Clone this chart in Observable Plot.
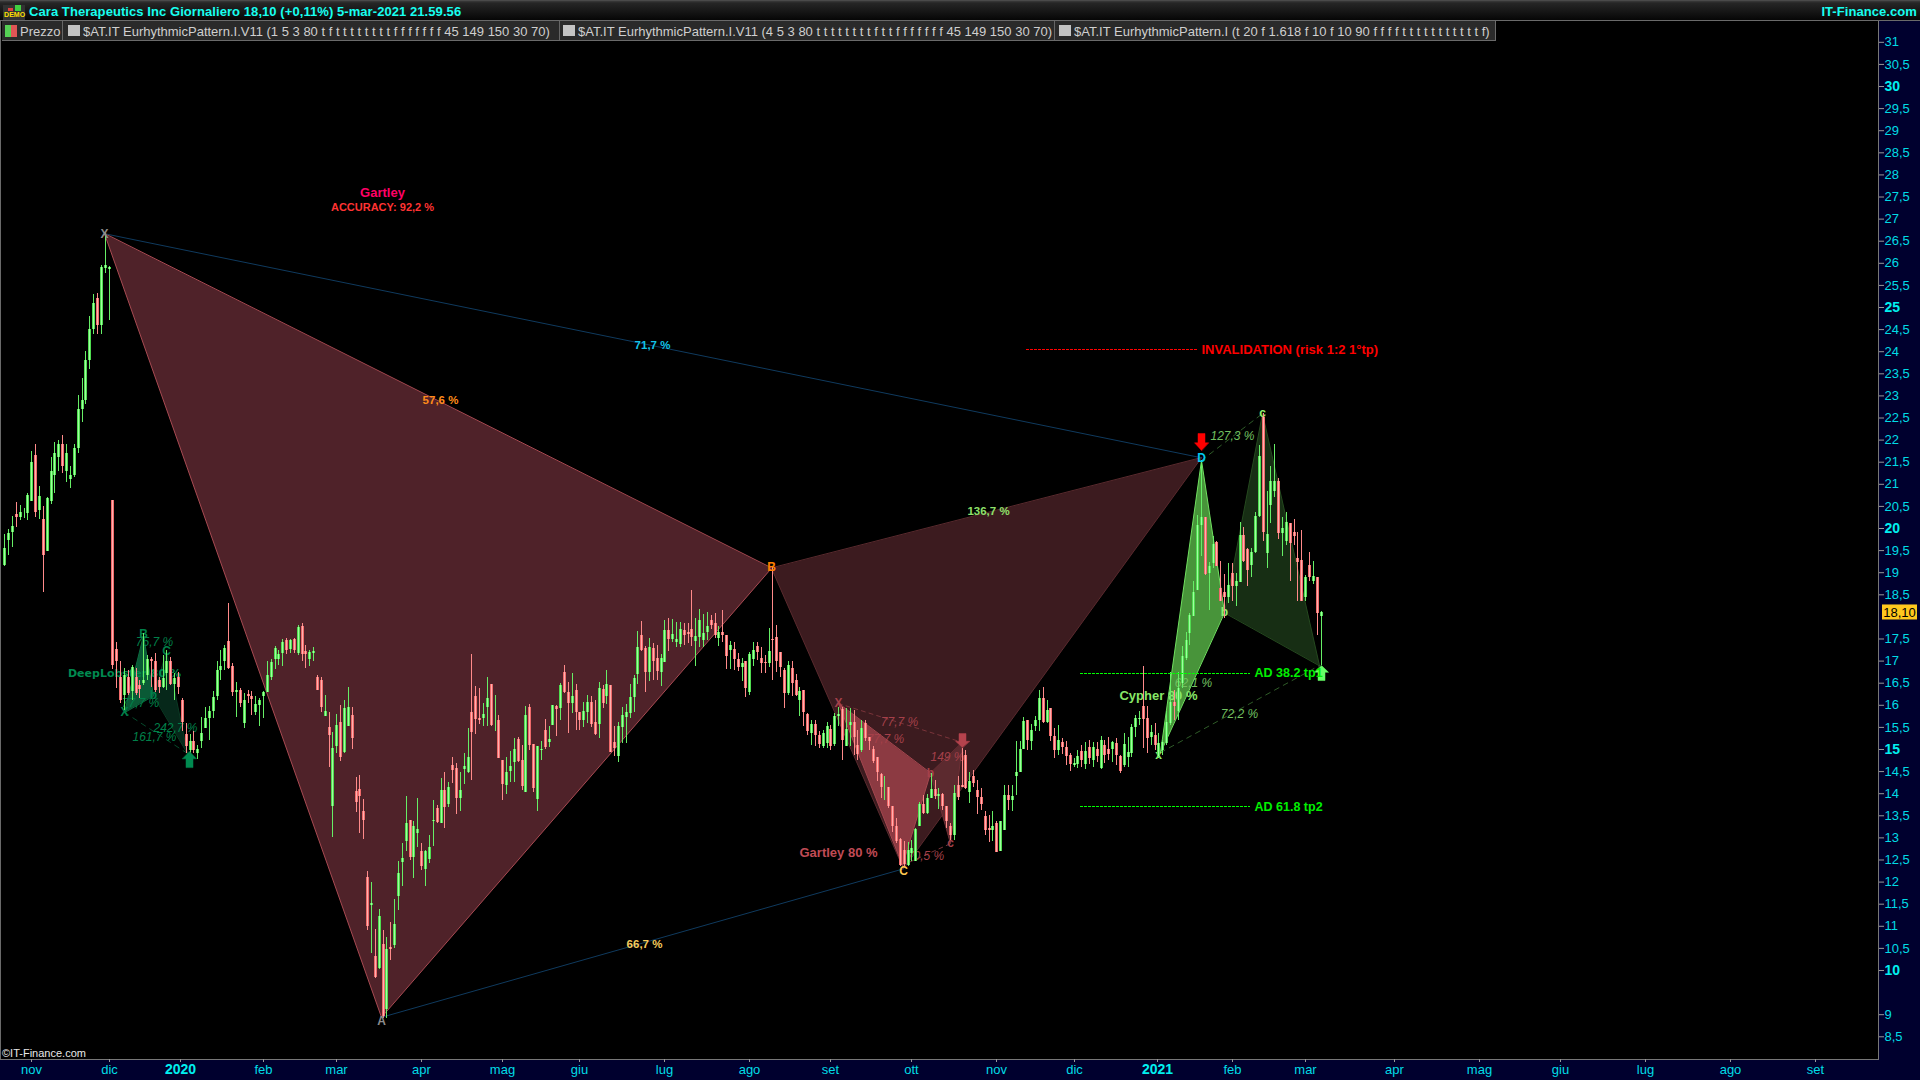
<!DOCTYPE html>
<html lang="it">
<head>
<meta charset="utf-8">
<title>Cara Therapeutics Inc</title>
<script src="https://cdn.jsdelivr.net/npm/d3@7"></script>
<script src="https://cdn.jsdelivr.net/npm/@observablehq/plot@0.6"></script>
<style>
html,body{margin:0;padding:0;background:#000;width:1920px;height:1080px;overflow:hidden;font-family:"Liberation Sans",Arial,sans-serif}
.abs{position:absolute}
#titlebar{left:0;top:0;width:1920px;height:20px;background:linear-gradient(#5a5a5a 0,#3a3a3a 1px,#262626 3px,#060606 20px);border-bottom:1px solid #6a6a6a;color:#18fff0;font-weight:bold;font-size:13px;line-height:24px;letter-spacing:.07px}
#legend{left:2px;top:21px;height:19px;display:flex;background:#2a2a2a;border-bottom:1px solid #6a6a6a;border-right:1px solid #6a6a6a;color:#cfcfcf;font-size:13px;line-height:21px}
#legend .seg{position:relative;border-right:1px solid #666;box-sizing:border-box;white-space:nowrap;height:19px}
#legend .seg:last-child{border-right:none}
#legend .sw{position:absolute;top:4px;width:12px;height:11px;background:#c4c4c4}
#legend .tx{position:absolute;top:0}
</style>
</head>
<body>
<div class="abs" style="left:1878px;top:21px;width:42px;height:1059px;background:#00002e"></div>
<div class="abs" style="left:0;top:1059px;width:1920px;height:21px;background:#00002e"></div>
<div class="abs" style="left:0;top:21px;width:1px;height:1038px;background:#6a6a6a"></div>
<div class="abs" style="left:0;top:1059px;width:1878px;height:1px;background:#777"></div>
<div class="abs" style="left:1878px;top:21px;width:1px;height:1039px;background:#777"></div>
<div id="chart"></div>
<div id="titlebar" class="abs">
  <span class="abs" style="left:3px;top:5px;width:22px;height:15px;background:#333"></span>
  <span class="abs" style="left:8px;top:8px;width:5px;height:3px;background:#e04040"></span>
  <span class="abs" style="left:15px;top:5px;width:6px;height:6px;background:#40d040"></span>
  <span class="abs" style="left:4px;top:11px;font-size:7px;line-height:8px;color:#ffe000">DEMO</span>
  <span class="abs" style="left:29px;top:0">Cara Therapeutics Inc Giornaliero 18,10 (+0,11%) 5-mar-2021 21.59.56</span>
  <span class="abs" style="right:3px;top:0">IT-Finance.com</span>
</div>
<div id="legend" class="abs">
  <div class="seg" style="width:61px"><span class="abs" style="left:3px;top:4px;width:6px;height:12px;background:#55d055"></span><span class="abs" style="left:9px;top:4px;width:6px;height:12px;background:#e05555"></span><span class="tx" style="left:18px">Prezzo</span></div>
  <div class="seg" style="width:497px"><span class="sw" style="left:5px"></span><span class="tx" style="left:20px" id="l1"></span></div>
  <div class="seg" style="width:495px"><span class="sw" style="left:3px"></span><span class="tx" style="left:18px" id="l2"></span></div>
  <div class="seg" style="width:440px"><span class="sw" style="left:4px"></span><span class="tx" style="left:19px" id="l3"></span></div>
</div>
<div class="abs" style="left:2px;top:1046px;font-size:11px;color:#e8e8e8;line-height:14px">©IT-Finance.com</div>
<script>
// ---------- legend text ----------
const legendTexts = [
  "$AT.IT EurhythmicPattern.I.V11 (1 5 3 80 t f t t t t t t t t f f f f f f f 45 149 150 30 70)",
  "$AT.IT EurhythmicPattern.I.V11 (4 5 3 80 t t t t t t t t f t t f f f f f f f 45 149 150 30 70)",
  "$AT.IT EurhythmicPattern.I (t 20 f 1.618 f 10 f 10 90 f f f f t t t t t t t t t t t f)"
];
// ---------- daily candles: [open, high, low, close] ----------
const barsRun = [
[19.17,19.87,19.14,19.54],[19.72,19.97,19.39,19.88],[19.9,20.28,19.58,20.05],[20.32,20.58,20.03,20.24],[20.26,20.52,20.19,20.37],
[20.33,20.45,20.22,20.35],[20.34,20.79,20.17,20.75],[20.62,21.75,20.6,21.5],[21.65,21.9,20.24,20.37],[20.41,20.95,20.21,20.73],
[20.2,20.49,18.56,19.39],[19.49,20.71,19.49,20.69],[20.62,21.6,20.55,21.3],[21.2,21.95,20.8,21.7],[21.6,22,21.3,21.9],
[21.9,22.1,21.25,21.4],[21.3,21.9,21.03,21.7],[21.1,21.4,20.9,21.2],[21.2,21.9,21.15,21.8],[21.8,23,21.7,22.7],
[22.7,23.4,22.4,22.9],[22.9,24,22.8,23.8],[23.8,24.8,23.6,24.5],[24.5,25.3,24.4,25.1],[25.2,25.32,24.4,24.6],
[24.6,25.95,24.4,25.9],[25.88,26.67,25.77,25.95],[25.85,25.92,24.7,25.9]
];
const barsCollapse = [
[20.64,20.64,16.81,16.9],[17.27,17.42,16.38,17],[16.64,16.98,16.05,16.11],[16.23,16.83,15.89,16.68],[16.64,16.79,16.23,16.26],
[16.32,16.9,16.11,16.85],[16.64,16.83,16.23,16.26],[16.45,16.57,16.15,16.36],[16.49,17.62,16.45,16.57],[16.68,17.13,16.57,17.04],
[17.04,17.09,16.4,16.98],[16.98,17.17,16.3,16.34],[16.57,16.64,16.26,16.41],[16.41,17.13,16.38,16.6],[16.73,17.24,16.34,16.99],
[16.99,17.09,16.45,16.48],[16.48,16.72,16.11,16.6],[16.64,16.75,16.25,16.4],[16.11,16.15,15.4,15.62],[15.34,15.59,14.91,15.06],
[14.98,15.34,14.91,15.17],[15.17,15.4,14.91,14.98],[14.92,15.09,14.77,14.99],[15.17,15.72,15.02,15.36],[15.47,15.95,15.47,15.7],
[15.7,15.98,15.21,15.86],[15.85,16.32,15.7,16.17],[16.21,16.98,16.1,16.79],[16.78,17.24,16.57,16.88],[17,17.36,16.79,17.28],
[17.44,18.3,16.81,16.83],[16.88,16.94,16.19,16.28],[16.28,16.51,15.72,16.34],[16.34,16.38,15.96,16.05],[15.59,16.26,15.47,16.11],
[16.24,16.34,16.04,16.19],[16.2,16.32,15.77,16.14],[15.83,16.2,15.77,16.02],[15.99,16.15,15.51,16.1],[16.21,16.32,15.7,16.29],
[16.3,16.98,16.3,16.67],[16.64,17.04,16.55,16.97],[17.03,17.32,16.81,17.28],[17.03,17.24,16.9,17.15],[17.17,17.49,16.88,17.42],
[17.46,17.51,17.15,17.24],[17.26,17.49,17.17,17.47],[17.49,17.51,17.17,17.24],[17.17,17.81,17.13,17.76],[17.79,17.85,16.98,17.15],
[17.21,17.36,16.83,17.15],[17.04,17.24,16.88,17.19],[17.18,17.3,16.99,17.21],[16.64,16.68,16.34,16.34],[16.57,16.64,15.83,15.96],
[15.74,16.23,15.74,15.86],[15.5,15.83,14.59,15.32],[13.72,15.38,13,15.02],[15.06,15.8,14.9,15.55],[15.61,16,14.72,14.81],
[14.94,16.11,14.91,15.93],[15.52,16.4,15.51,15.96],[15.77,15.95,14.99,15.26]
];
const barsRecovery = [
[14.05,14.37,13.58,13.79],[14.09,14.41,13.1,13.94],[13.6,13.86,12.96,13.39],[12.1,12.24,10.9,11],[11.48,12,10.39,11.52],
[10.32,10.92,9.81,9.85],[10.04,11.38,10.02,11.22],[10.59,10.9,8.91,8.95],[9.11,10.74,8.91,10.48],[10.53,11.09,10.23,10.48],
[10.57,11.6,10.49,11.04],[11.67,12.47,11.36,12.19],[12.44,12.87,11.89,12.53],[12.92,13.94,12.7,13.32],[13.39,13.39,12.49,12.56],
[12.56,13.36,12.07,13.26],[13.11,13.88,12.79,13.19],[12.7,12.87,12.26,12.35],[12.29,12.71,11.91,12.69],[12.51,13.05,12.41,12.78],
[13.38,13.85,12.81,13.39],[13.66,13.73,13.32,13.34],[13.33,14.35,13.33,14.07],[14.07,14.49,13.22,13.69],[13.76,14.26,13.69,14.13],
[14.64,14.81,14.24,14.52],[14.56,14.68,13.54,13.9],[13.9,14.49,13.6,14.07],[14.55,14.92,14.21,14.61],[14.49,15.47,14.46,14.81],
[15.83,17.15,14.3,15.39],[16.2,16.42,15.35,15.68],[15.71,16.38,15.57,15.66],[15.71,16.03,15.52,15.79],[15.96,16.62,15.52,16.15],
[16.48,16.48,15.52,15.54],[15.85,16.22,15.41,15.87],[15.66,15.78,14.8,14.8],[14.75,14.75,13.85,14.21],[14.19,14.83,13.98,14.47],
[14.51,14.95,14.26,14.61],[14.71,15.26,14.26,15],[15.23,15.28,14.71,14.73],[14.75,15.09,14.07,14.16],[14.03,15.97,14.03,15.77],
[15.94,16.02,14.98,15.09],[15.11,15.11,14.03,14.12],[13.87,15.07,13.6,15.07],[14.98,15.17,14.75,15.01],[15.43,15.67,14.99,15.05],
[15.15,15.52,15.05,15.23],[15.54,15.99,15.54,15.99],[15.98,15.99,15.3,15.91],[15.92,16.49,15.66,16.45],[16.74,16.9,16.26,16.28],
[16.3,16.52,15.37,16.05],[16.05,16.71,15.81,16.21],[16.33,16.47,15.44,15.84],[15.83,15.84,15.43,15.66],[15.66,16.07,15.49,15.86],
[15.84,16.22,15.58,16.06],[16.06,16.21,15.5,15.56],[15.61,16.11,15.32,15.34],[15.57,16.52,15.26,16.37],[16.35,16.45,15.92,16.05],
[16.21,16.79,16.02,16.46],[16.44,16.44,14.94,14.94],[15.15,15.52,14.85,15.03],[14.85,15.61,14.71,15.52],[15.5,15.96,15.13,15.76],
[15.73,16.02,15.13,15.83],[15.82,16.47,15.69,16.17],[16.17,16.67,15.83,16.6],[16.7,17.68,16.47,17.3],[17.58,17.9,17.22,17.25],
[17.28,17.34,16.3,16.75],[16.75,17.5,16.54,17.3],[17.28,17.39,16.56,17],[17.07,17.35,16.56,16.77],[16.75,17.16,16.43,17.07],
[16.97,17.92,16.97,17.69],[17.69,17.96,17.22,17.49],[17.49,17.94,17.43,17.6],[17.41,17.88,17.31,17.49],[17.37,17.88,17.31,17.71],
[17.69,17.84,17.35,17.58],[17.65,17.84,17.39,17.61],[17.71,18.6,17.33,17.54],[17.45,17.96,16.88,17.56],[17.53,18.17,17.31,17.92],
[17.47,18.05,17.31,17.63],[17.64,18.09,17.47,17.78],[17.92,18.03,17.71,17.8],[17.84,18.07,17.5,17.58],[17.5,17.78,17.34,17.64],
[17.64,18.14,17.43,17.59],[17.59,17.59,16.81,17.1],[17.24,17.44,16.82,17.35],[17.26,17.41,16.79,17.03],[17.03,17.18,16.76,16.86],
[16.86,17.05,16.54,16.94],[16.99,16.99,16.18,16.39],[16.3,17.19,16.22,17.15],[17.04,17.41,16.88,17.24],[17.33,17.43,17.01,17.2],
[17.07,17.3,16.71,16.95],[16.97,17.13,16.73,16.94],[16.94,17.73,16.86,17.22],[17.49,19.12,16.57,17.46]
];
const barsAutumn = [
[17.53,17.8,16.75,16.98],[17.19,17.2,16.64,16.85],[16.79,16.83,15.92,16.26],[16.26,16.98,16.23,16.91],[16.84,16.98,16.19,16.49],
[16.57,16.69,16.2,16.23],[16.11,16.4,15.74,16.32],[16.34,16.34,15.51,15.83],[15.8,15.81,15.32,15.4],[15.37,15.66,15.1,15.57],
[15.56,15.66,15.06,15.31],[15.32,15.41,15.02,15.11],[15.07,15.43,15.02,15.36],[15.13,15.62,15.02,15.51],[15.45,15.55,14.98,15.06],
[15.11,15.81,15.06,15.74],[15.74,15.96,15.51,15.8],[15.9,15.96,14.74,15.21],[15.07,15.92,15.07,15.45],[15.55,15.92,15.06,15.6],
[15.62,15.89,14.87,15.28],[15.1,15.43,14.76,14.89],[14.98,15.66,14.94,15.47],[15.59,15.66,15.17,15.25],[15.28,15.28,14.98,15.17],
[15,15.06,14.68,14.73],[14.81,14.83,14.27,14.47],[14.44,14.45,13.89,14.13],[14.13,14.38,13.85,14.15],[14.14,14.15,13.66,13.7],
[13.72,13.72,13.13,13.25],[13.26,13.44,12.87,12.91],[12.96,12.98,12.36,12.38],[12.72,12.91,12.36,12.4],[12.38,12.9,12.36,12.72],
[12.64,12.95,12.46,12.76],[12.46,13.21,12.46,13.19],[13.25,13.81,13.25,13.75],[13.76,13.96,13.53,13.55],[13.55,13.99,13.53,13.89],
[13.89,14.45,13.89,14.09],[14.09,14.29,13.87,13.94],[13.93,14.12,13.64,13.99],[13.99,14,13.63,13.7],[13.7,13.72,13.21,13.36],
[13.26,13.32,12.95,13.06],[13.06,14.19,12.95,14],[14.18,14.38,13.85,13.91],[14.18,15.02,14.14,14.14],[14.87,14.98,14.09,14.11],
[14.02,14.49,13.78,14.27],[14.38,14.53,14.15,14.24],[14.08,14.3,13.53,13.91],[13.91,14.12,13.61,13.76],[13.49,13.59,13.06,13.17],
[13.21,13.51,12.89,13.16],[13.16,13.59,12.91,13.26],[13.32,13.36,12.66,12.68],[12.7,13.36,12.7,13.36],[13.16,14.19,13.16,13.96],
[13.95,14.19,13.63,13.85],[13.85,14.19,13.59,13.93],[14.38,15.17,13.96,14.49],[14.49,15.17,14.49,15],[15,15.72,15,15.64],
[15.66,15.66,14.98,15.21],[15.19,15.57,14.98,15.43],[15.53,15.74,15.4,15.66],[15.66,16.34,15.4,16.15],[16.15,16.4,15.59,15.62],
[15.62,16.11,15.59,15.89],[15.92,15.92,15.17,15.3],[15.3,15.47,14.79,14.97],[14.97,15.55,14.87,15.21],[15.16,15.25,14.88,15.04],
[15.04,15.17,14.64,14.85],[14.87,14.91,14.51,14.67],[14.64,14.8,14.59,14.68],[14.67,14.98,14.57,14.85]
];
const barsWinter = [
[14.95,15.1,14.6,14.75],[14.65,15.15,14.55,14.95],[15.05,15.2,14.65,14.8],[14.75,15.15,14.6,15.05],[15,15.15,14.7,14.85],
[14.57,15.3,14.55,15.21],[15.09,15.21,14.68,14.87],[15,15.28,14.76,14.89],[15,15.19,14.7,15.16],[15.13,15.25,14.64,14.87],
[14.85,14.87,14.45,14.51],[14.64,15.36,14.6,15.11],[14.82,15.28,14.6,14.93],[14.92,15.57,14.83,15.5],[15.5,15.77,15.28,15.7],
[15.68,15.85,15.55,15.71],[15.98,16.88,15.02,15.68],[15.7,15.98,14.92,15.26],[15.28,15.55,15.1,15.38],[15.32,15.58,14.98,15.09],
[14.85,15.37,14.79,15.13],[14.97,15.21,14.87,15.15],[15.13,15.85,15.09,15.62],[15.59,16.75,15.55,16.07],[16.07,16.34,15.66,15.98],
[15.85,16.75,15.66,16.38],[16.49,17.32,16.38,17.11]
];
const barsBreakout = [
[17.06,17.64,17.02,17.47],[17.62,18.07,17.36,18.04],[18.02,18.79,18,18.55],[18.6,20.3,18.59,20.07],[20.06,21.54,19.36,20.26],
[20.25,20.26,18.94,18.96],[18.98,19.22,18.15,19.15],[19.21,19.82,19.09,19.64],[19.68,19.7,19.13,19.15],[18.64,19.26,18.34,18.34],
[18.56,18.96,17.96,18.45],[18.45,19.21,18.3,18.72],[18.98,19.21,18.34,18.68],[18.68,18.98,18.23,18.79],[18.77,20.13,18.77,19.85],
[19.85,20.03,19.23,19.26],[19.53,19.54,18.69,19.05],[19.17,19.54,18.9,19.45],[19.45,20.37,19.43,20.28],[20.28,21.88,20.26,21.62],
[22.52,22.6,19.7,19.9],[19.43,20.84,19.09,19.87],[20.51,21.41,20.11,21.07],[20.84,21.9,20.7,21.07],[21.07,21.13,19.75,19.88],
[19.88,20.26,19.36,20],[19.7,20.36,19.62,20.13],[20.11,20.11,18.79,19.67],[19.91,20.21,19.62,19.81],[19.32,19.92,18.34,19.24],
[19.28,19.96,18.34,18.35],[18.45,18.94,18.34,18.89],[19.17,19.45,18.79,18.89],[18.81,19.26,18.74,18.92],[18.89,18.89,17.58,18.07],
[18,18.13,16.91,18.1]
];
// ---------- axes ----------
const hiddenPriceTicks = [9.5, 18];
const priceBoldTicks = [10, 15, 20, 25, 30];
const priceTicks = d3.range(17, 63).map(k => k / 2).filter(v => !hiddenPriceTicks.includes(v) && !priceBoldTicks.includes(v));
const lastPrice = 18.10;
const monthBars = [7, 27, 67, 86, 108, 129, 149, 171, 193, 214, 235, 257, 277, 318, 337, 360, 382, 403, 425, 447, 469];
const monthNames = ["nov", "dic", "feb", "mar", "apr", "mag", "giu", "lug", "ago", "set", "ott", "nov", "dic", "feb", "mar", "apr", "mag", "giu", "lug", "ago", "set"];
const yearBars = [45.5, 298.7];
const yearNames = ["2020", "2021"];
// ---------- harmonic patterns: X A B C D ----------
const bigIdx = [25.83, 97.6, 198.6, 232.8, 309.9];
const bigPrice = [26.67, 8.94, 19.1, 12.3, 21.6];
const smallIdx = [216, 232.5, 239.8, 245, 248];
const smallPrice = [16.04, 12.38, 14.46, 12.87, 15.16];
const cypherIdx = [299.4, 309.9, 316, 325.7, 340.6];
const cypherPrice = [14.93, 21.54, 18.1, 22.6, 16.9];
const deepIdx = [31, 35.9, 38.5, 41.9, 47.3];
const deepPrice = [15.84, 17.58, 16.22, 17.22, 14.91];
// ---------- levels ----------
const levelPrices = [16.72, 13.71];
const levelStart = 278.7, levelEnd = 322.7;
const invalidationPrice = 24.05, invalidationStart = 264.7, invalidationEnd = 309;
// ---------- labels: text, bar index, price, colour ----------
const bigLabels = [
  ["57,6 %", 112.9, 22.9, "#ff8c1a"], ["71,7 %", 167.8, 24.14, "#12c4e8"],
  ["136,7 %", 254.8, 20.38, "#8fe06a"], ["66,7 %", 165.7, 10.59, "#f5cb5c"]
];
const bigLetters = [
  ["X", 25.83, 26.67, "#8c8c8c"], ["A", 97.6, 8.85, "#8c8c8c"], ["B", 198.6, 19.12, "#ff8000"],
  ["C", 232.8, 12.25, "#ffc850"], ["D", 309.9, 21.6, "#00c8f0"]
];
const smallLetters = [["X", 216, 16.04], ["b", 239.8, 14.46], ["c", 245, 12.87]];
const smallPct = [["77,7 %", 231.8, 15.61], ["77,7 %", 228.2, 15.23], ["149 %", 244.2, 14.82], ["70,5 %", 238.5, 12.58]];
const cypherLetters = [["x", 299, 14.87], ["b", 316, 18.1], ["c", 325.7, 22.62]];
const cypherPct = [["62,1 %", 308, 16.49], ["72,2 %", 319.9, 15.81], ["127,3 %", 318.1, 22.08]];
const deepLetters = [["X", 31, 15.84], ["B", 35.9, 17.6], ["b", 38.5, 16.22], ["C", 41.9, 17.22]];
const deepPct = [["75,7 %", 38.8, 17.42], ["77,7 %", 35.2, 16.04], ["242,7 %", 44.2, 15.48], ["161,7 %", 38.8, 15.29]];

document.getElementById("l1").textContent = legendTexts[0];
document.getElementById("l2").textContent = legendTexts[1];
document.getElementById("l3").textContent = legendTexts[2];

const bars = [...barsRun, ...barsCollapse, ...barsRecovery, ...barsAutumn, ...barsWinter, ...barsBreakout]
  .map(([o, h, l, c], i) => ({i, o, h, l, c, lo: Math.min(o, c), hi: Math.max(o, c)}));
const up = bars.filter(d => d.c >= d.o), down = bars.filter(d => d.c < d.o);

const pts = (ix, pr, keys) => keys.map(k => ({i: ix[k], p: pr[k]}));
const poly = (ix, pr, keys, fill, stroke, o = {}) =>
  Plot.line(pts(ix, pr, keys), {x: "i", y: "p", fill, stroke, strokeWidth: 1, curve: "linear-closed", ...o});
const seg = (ix, pr, keys, stroke, o = {}) =>
  Plot.line(pts(ix, pr, keys), {x: "i", y: "p", stroke, strokeWidth: 1, ...o});
const txt = (rows, o) => Plot.text(rows, {x: d => d[1], y: d => d[2], text: d => d[0], lineAnchor: "middle", ...o});
const fmt = v => String(v).replace(".", ",");

const blockArrow = {draw(ctx, l) {
  const h = l * 0.45;
  ctx.moveTo(0, -l); ctx.lineTo(7, -l + h); ctx.lineTo(3.5, -l + h); ctx.lineTo(3.5, 0);
  ctx.lineTo(-3.5, 0); ctx.lineTo(-3.5, -l + h); ctx.lineTo(-7, -l + h); ctx.closePath();
}};
const arrow = (i, p, len, rotate, color) =>
  Plot.vector([{i, p}], {x: "i", y: "p", length: len, rotate, shape: blockArrow, anchor: "start", fill: color, stroke: color, strokeWidth: 0.5});

const candleMarks = (rows, edge, core, wick) => [
  Plot.ruleX(rows, {x: "i", y1: "l", y2: "h", stroke: wick, strokeWidth: 1, shapeRendering: "crispEdges"}),
  Plot.ruleX(rows, {x: "i", y1: "lo", y2: "hi", stroke: edge, strokeWidth: 3, shapeRendering: "crispEdges"}),
  Plot.ruleX(rows, {x: "i", y1: "lo", y2: "hi", stroke: core, strokeWidth: 1, shapeRendering: "crispEdges"})
];

const fontBase = {fontFamily: "Liberation Sans, Arial, sans-serif"};
const chart = Plot.plot({
  width: 1920, height: 1059,
  marginTop: 0, marginBottom: 21, marginLeft: 2, marginRight: 42,
  x: {domain: [-0.6, 485.4], round: true},
  y: {domain: [7.986, 31.471]},
  style: {background: "transparent", position: "absolute", left: "0px", top: "21px", fontFamily: "Liberation Sans, Arial, sans-serif", overflow: "visible"},
  marks: [
    // big Gartley
    poly(bigIdx, bigPrice, [0, 1, 2], "#4f2229", "#a84a52"),
    poly(bigIdx, bigPrice, [2, 3, 4], "#3c1b1f", "#5a2a2e"),
    seg(bigIdx, bigPrice, [0, 4], "#0f3a5e"),
    seg(bigIdx, bigPrice, [1, 3], "#0f3a5e"),
    // small Gartley
    poly(smallIdx, smallPrice, [2, 3, 4], "#5c2a2f", "#6e3036"),
    poly(smallIdx, smallPrice, [0, 1, 2], "#8c3a42", "#a5474f"),
    seg(smallIdx, smallPrice, [0, 4], "#7a343a", {strokeDasharray: "4,4"}),
    seg(smallIdx, smallPrice, [1, 3], "#7a343a", {strokeDasharray: "4,4"}),
    // Cypher
    poly(cypherIdx, cypherPrice, [2, 3, 4], "#172e14", "#25491f"),
    poly(cypherIdx, cypherPrice, [0, 1, 2], "#48943a", "#70e060"),
    seg(cypherIdx, cypherPrice, [0, 4], "#2f5c28", {strokeDasharray: "5,5"}),
    seg(cypherIdx, cypherPrice, [1, 3], "#2f5c28", {strokeDasharray: "5,5"}),
    // DeepLobster
    poly(deepIdx, deepPrice, [2, 3, 4], "#06281a", "#0a3a24"),
    poly(deepIdx, deepPrice, [0, 1, 2], "#0a5a36", "#0c6a40"),
    seg(deepIdx, deepPrice, [0, 4], "#064a2c", {strokeDasharray: "5,5"}),
    // pattern labels underneath the candles
    txt(deepPct, {fill: "#00804a", fontSize: 12, fontStyle: "italic", ...fontBase}),
    txt(deepLetters, {fill: "#00804a", fontSize: 12, fontWeight: "bold", ...fontBase}),
    txt([["DeepLobster 80 %", 31, 16.72]], {fill: "#008a50", fontSize: 11, fontWeight: "bold", fontFamily: "DejaVu Sans"}),
    txt(smallPct, {fill: "#a5404a", fontSize: 12, fontStyle: "italic", ...fontBase}),
    txt(smallLetters, {fill: "#a5404a", fontSize: 12, fontWeight: "bold", ...fontBase}),
    txt([["Gartley 80 %", 216, 12.67]], {fill: "#c04b55", fontSize: 13, fontWeight: "bold", ...fontBase}),
    txt(cypherPct, {fill: "#72c060", fontSize: 12, fontStyle: "italic", ...fontBase}),
    txt(cypherLetters, {fill: "#90ee70", fontSize: 12, fontWeight: "bold", ...fontBase}),
    txt([["Cypher 80 %", 298.9, 16.22]], {fill: "#88e868", fontSize: 13, fontWeight: "bold", ...fontBase}),
    // candles
    ...candleMarks(up, "#4fdc4f", "#a0ffa0", "#66ee66"),
    ...candleMarks(down, "#f06a6a", "#ffb0b0", "#ff8a8a"),
    // arrows
    arrow(47.85, 14.59, 16, 0, "#008a50"),
    arrow(248, 15.36, 14, 180, "#b5434d"),
    arrow(309.9, 22.15, 17, 180, "#ff0000"),
    arrow(341, 16.56, 15, 0, "#66ff66"),
    // big labels
    txt(bigLabels, {fill: d => d[3], fontSize: 11.5, fontWeight: "bold", ...fontBase}),
    txt(bigLetters, {fill: d => d[3], fontSize: 12, fontWeight: "bold", ...fontBase}),
    txt([["Gartley", 97.9, 27.6]], {fill: "#ff0066", fontSize: 13, fontWeight: "bold", ...fontBase}),
    txt([["ACCURACY: 92,2 %", 97.9, 27.26]], {fill: "#ff3333", fontSize: 11, fontWeight: "bold", ...fontBase}),
    // levels
    ...levelPrices.map(p => Plot.ruleY([p], {x1: levelStart, x2: levelEnd, stroke: "#00ff00", strokeDasharray: "3,1", shapeRendering: "crispEdges"})),
    Plot.ruleY([invalidationPrice], {x1: invalidationStart, x2: invalidationEnd, stroke: "#ff0000", strokeDasharray: "3,1", shapeRendering: "crispEdges"}),
    txt([["AD 38.2 tp1", 323.8, levelPrices[0]], ["AD 61.8 tp2", 323.8, levelPrices[1]]], {fill: "#00f000", fontSize: 12.5, fontWeight: "bold", textAnchor: "start", ...fontBase}),
    txt([["INVALIDATION (risk 1:2 1°tp)", 310, invalidationPrice]], {fill: "#ff0000", fontSize: 13, fontWeight: "bold", textAnchor: "start", ...fontBase}),
    // axes
    Plot.axisY(priceTicks, {anchor: "right", tickSize: 5, tickPadding: 1, tickFormat: fmt, stroke: "#999", fill: "#00dce6", fontSize: 13, label: null}),
    Plot.axisY(priceBoldTicks, {anchor: "right", tickSize: 5, tickPadding: 1, tickFormat: fmt, stroke: "#999", fill: "#00f0f0", fontSize: 14, fontWeight: "bold", label: null}),
    Plot.axisX(monthBars, {anchor: "bottom", tickSize: 3, tickPadding: 2, tickFormat: d => monthNames[monthBars.indexOf(d)], stroke: "#999", fill: "#00dce6", fontSize: 13, label: null}),
    Plot.axisX(yearBars, {anchor: "bottom", tickSize: 3, tickPadding: 2, tickFormat: d => yearNames[yearBars.indexOf(d)], stroke: "#999", fill: "#00f0f0", fontSize: 14, fontWeight: "bold", label: null}),
    // last price tag
    Plot.rect([lastPrice], {x1: 486.4, x2: 495.5, y1: d => d - 0.17, y2: d => d + 0.17, fill: "#ffc81e"}),
    Plot.text([lastPrice], {x: 490.95, y: d => d, text: fmt2 => fmt2.toFixed(2).replace(".", ","), fill: "#000", fontSize: 13, lineAnchor: "middle", ...fontBase})
  ]
});
document.getElementById("chart").appendChild(chart);
</script>
</body>
</html>
